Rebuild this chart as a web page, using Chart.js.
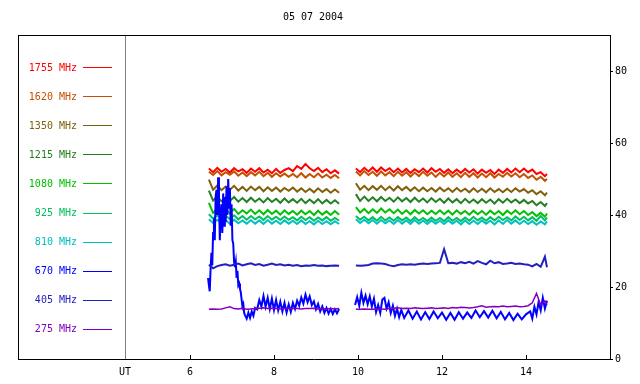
<!DOCTYPE html>
<html>
<head>
<meta charset="utf-8">
<script src="https://cdn.jsdelivr.net/npm/chart.js@4/dist/chart.umd.min.js"></script>
<style>
html,body{margin:0;padding:0;background:#fff;}
canvas{display:block;}
</style>
</head>
<body>
<canvas id="c" width="640" height="384" style="width:640px;height:384px"></canvas>
<script>
const titleText = '05 07 2004';
const xTicks = [6, 8, 10, 12, 14];
const yTicks = [0, 20, 40, 60, 80];
const names = ['1755 MHz','1620 MHz','1350 MHz','1215 MHz','1080 MHz','925 MHz','810 MHz','670 MHz','405 MHz','275 MHz'];
const colors = ['#ff0000','#c45000','#80600a','#228022','#00c000','#00c060','#00c0c0','#0000ff','#2020c0','#8000c0'];

const times = [6.45,6.55,6.65,6.75,6.85,6.95,7.05,7.15,7.25,7.35,
7.45,7.55,7.65,7.75,7.85,7.95,8.05,8.15,8.25,8.35,
8.45,8.55,8.65,8.75,8.85,8.95,9.05,9.15,9.25,9.35,
9.45,9.55,
9.75,
9.95,10.05,10.15,10.25,10.35,10.45,10.55,10.65,10.75,10.85,
10.95,11.05,11.15,11.25,11.35,11.45,11.55,11.65,11.75,11.85,
11.95,12.05,12.15,12.25,12.35,12.45,12.55,12.65,12.75,12.85,
12.95,13.05,13.15,13.25,13.35,13.45,13.55,13.65,13.75,13.85,
13.95,14.05,14.15,14.25,14.35,14.45,14.5];

const v1755 = [52.9,51.9,53.1,52.0,52.8,51.8,53.0,52.1,52.7,51.7,
52.9,52.0,53.0,51.8,52.6,51.6,52.8,51.7,52.5,53.0,
52.2,53.6,52.8,54.2,53.0,52.2,53.1,51.9,52.7,51.6,
52.4,51.5,
null,
52.9,51.9,53.1,52.1,53.2,52.0,53.2,52.2,53.0,51.9,
52.9,51.8,52.8,51.7,52.7,51.9,52.9,51.8,53.0,52.0,
52.8,51.7,52.7,51.6,52.6,51.7,52.8,51.8,52.7,51.5,
52.6,51.7,52.5,51.4,52.6,51.7,52.8,51.8,52.9,51.9,
52.9,51.9,52.6,51.4,51.9,50.8,51.4];

const v1620 = [52.0,51.1,52.2,51.0,51.9,51.2,52.1,50.9,51.8,50.8,
51.9,51.0,52.0,50.8,51.7,50.6,51.6,50.7,51.5,50.6,
51.4,50.5,51.6,50.4,51.4,50.5,51.5,50.4,51.2,50.3,
51.1,50.2,
null,
52.1,51.0,52.2,51.1,52.0,50.9,52.1,51.0,51.9,50.8,
52.0,50.9,51.9,50.7,51.8,50.8,52.0,50.9,51.8,50.6,
51.7,50.7,51.8,50.6,51.6,50.5,51.7,50.6,51.6,50.4,
51.5,50.5,51.6,50.4,51.4,50.6,51.7,50.7,51.6,50.5,
51.4,50.3,51.0,49.8,50.6,49.5,50.0];

const v1350 = [49.8,47.0,48.2,46.9,47.9,47.0,48.1,46.8,47.8,46.7,
47.9,46.9,47.8,46.6,47.7,46.7,47.6,46.5,47.5,46.7,
47.6,46.5,47.4,46.4,47.3,46.3,47.4,46.4,47.2,46.2,
47.1,46.2,
null,
48.8,47.0,48.1,46.9,48.0,47.0,48.1,46.9,47.9,46.8,
48.0,46.9,47.8,46.7,47.7,46.6,47.6,46.6,47.5,46.5,
47.6,46.6,47.4,46.4,47.5,46.5,47.3,46.3,47.4,46.4,
47.3,46.3,47.4,46.4,47.2,46.3,47.3,46.4,47.4,46.5,
47.2,46.2,46.9,45.8,46.6,45.5,46.2];

const v1215 = [46.8,44.0,45.1,43.8,44.9,43.9,45.0,43.7,44.7,43.6,
44.8,43.7,44.6,43.5,44.7,43.6,44.5,43.4,44.6,43.5,
44.4,43.4,44.5,43.3,44.3,43.3,44.4,43.2,44.2,43.2,
44.1,43.1,
null,
45.8,43.9,45.1,43.9,44.9,43.8,45.0,43.9,44.8,43.7,
44.9,43.8,44.7,43.6,44.8,43.7,44.6,43.5,44.7,43.6,
44.5,43.4,44.6,43.5,44.4,43.3,44.5,43.4,44.3,43.3,
44.4,43.4,44.3,43.2,44.4,43.4,44.5,43.5,44.3,43.3,
44.2,43.2,43.9,42.7,43.6,42.5,43.3];

const v1080 = [43.4,40.6,41.6,40.4,41.4,40.5,41.7,40.3,41.3,40.4,
41.5,40.3,41.3,40.2,41.4,40.3,41.2,40.1,41.3,40.3,
41.1,40.1,41.2,40.2,41.1,40.0,41.2,40.1,41.0,40.0,
41.1,40.1,
null,
42.2,40.7,41.7,40.5,41.6,40.6,41.8,40.7,41.6,40.5,
41.5,40.3,41.3,40.2,41.4,40.4,41.3,40.2,41.2,40.3,
41.3,40.2,41.2,40.1,41.3,40.3,41.1,40.1,41.2,40.2,
41.1,40.1,41.2,40.2,41.1,40.0,41.2,40.3,41.3,40.2,
41.1,40.0,40.8,39.7,40.6,39.5,40.4];

const v925 = [40.2,39.0,39.9,38.8,39.8,38.9,39.9,38.8,39.7,38.7,
39.7,38.8,39.6,38.6,39.7,38.7,39.5,38.6,39.6,38.7,
39.4,38.5,39.5,38.6,39.4,38.4,39.3,38.5,39.4,38.4,
39.2,38.4,
null,
39.7,38.7,39.5,38.5,39.4,38.4,39.5,38.5,39.3,38.4,
39.4,38.5,39.3,38.3,39.4,38.4,39.2,38.3,39.3,38.4,
39.2,38.3,39.4,38.4,39.2,38.3,39.3,38.4,39.5,38.5,
39.3,38.4,39.4,38.5,39.5,38.6,39.4,38.5,39.6,38.6,
39.5,38.5,39.4,38.4,39.7,38.5,39.3];

const v810 = [38.8,37.8,38.7,37.7,38.6,37.6,38.7,37.7,38.5,37.6,
38.6,37.6,38.5,37.5,38.6,37.6,38.4,37.5,38.5,37.6,
38.4,37.5,38.5,37.5,38.3,37.4,38.4,37.5,38.3,37.4,
38.3,37.5,
null,
38.8,37.8,38.7,37.7,38.6,37.6,38.6,37.7,38.5,37.5,
38.6,37.6,38.5,37.5,38.6,37.6,38.4,37.5,38.5,37.6,
38.4,37.5,38.5,37.6,38.4,37.4,38.5,37.5,38.4,37.5,
38.5,37.6,38.4,37.4,38.5,37.5,38.6,37.6,38.5,37.5,
38.4,37.5,38.3,37.3,38.2,37.4,38.2];

const v405 = [26.2,25.2,25.8,26.1,26.3,25.9,26.2,26.5,26.0,26.3,
26.6,26.1,26.4,25.9,26.2,26.5,26.1,26.3,26.0,26.2,
25.9,26.1,25.8,26.0,25.9,26.1,25.9,26.0,25.8,25.9,
26.0,25.9,
null,
26.0,25.9,26.0,26.1,26.5,26.6,26.5,26.4,26.0,25.8,
26.1,26.3,26.2,26.3,26.2,26.4,26.5,26.4,26.5,26.6,
26.7,30.5,26.6,26.7,26.5,26.9,26.6,27.0,26.5,27.2,
26.7,26.3,27.3,26.6,26.9,26.4,26.5,26.7,26.4,26.5,
26.3,26.2,25.7,26.4,25.6,28.4,25.5];

const v275 = [13.8,13.9,13.8,13.9,14.2,14.5,14.0,13.9,14.1,13.8,
13.9,14.0,14.1,14.2,14.0,14.1,14.0,13.9,14.0,14.1,
14.0,14.0,13.9,14.0,14.0,14.1,13.9,14.0,13.9,14.0,
13.9,14.0,
null,
13.8,13.8,13.9,13.8,13.8,13.9,13.9,13.8,14.0,14.1,
14.2,14.0,14.1,14.0,14.2,14.1,14.0,14.1,14.2,14.0,
14.1,14.2,14.0,14.3,14.2,14.4,14.3,14.2,14.3,14.5,
14.8,14.4,14.5,14.6,14.5,14.7,14.5,14.6,14.7,14.5,
14.6,14.8,15.6,18.2,15.0,16.2,15.0];

// 670 MHz has its own, finer sampled time axis
const t670 = [6.43,6.45,6.47,6.49,6.51,6.53,6.55,6.57,6.59,6.61,
6.63,6.65,6.67,6.69,6.71,6.73,6.75,6.77,6.79,6.81,
6.83,6.85,6.87,6.89,6.91,6.93,6.95,6.97,6.99,7.01,
7.03,7.05,7.07,7.09,7.11,7.13,7.15,7.17,7.19,7.21,
7.23,7.25,7.27,7.29,7.31,7.35,7.39,7.43,7.47,7.51,
7.55,7.60,7.65,7.70,7.75,7.80,7.85,7.90,7.95,8.00,
8.05,8.10,8.15,8.20,8.25,8.30,8.35,8.40,8.45,8.50,
8.55,8.60,8.65,8.70,8.75,8.80,8.85,8.90,8.95,9.00,
9.05,9.10,9.15,9.20,9.25,9.30,9.35,9.40,9.45,9.50,
9.55,
9.75,
9.93,9.98,10.03,10.08,10.13,10.18,10.23,10.28,10.33,10.38,
10.43,10.48,10.53,10.58,10.63,10.68,10.73,10.78,10.83,10.88,
10.93,10.98,11.03,11.1,11.2,11.3,11.4,11.5,11.6,11.7,
11.8,11.9,12.0,12.1,12.2,12.3,12.4,12.5,12.6,12.7,
12.8,12.9,13.0,13.1,13.2,13.3,13.4,13.5,13.6,13.7,
13.8,13.9,14.0,14.1,14.15,14.2,14.25,14.3,14.35,14.4,
14.45,14.5];
const v670 = [22.5,20.5,18.8,25.0,29.5,26.0,35.0,39.0,33.0,45.0,
47.0,40.0,50.5,45.0,33.0,40.0,43.0,35.0,46.0,37.0,
45.0,38.0,48.0,40.0,50.0,42.0,47.5,37.0,43.0,33.0,
32.0,27.0,25.5,27.0,22.5,24.5,20.5,21.0,19.5,18.5,
16.4,14.5,15.2,12.8,12.2,11.2,12.9,11.4,13.2,12.0,
14.2,13.8,16.4,14.6,17.5,14.5,17.0,13.9,16.8,13.6,
16.4,13.5,15.9,13.2,15.6,12.9,15.2,13.1,15.6,13.9,
16.2,14.8,17.1,15.4,17.9,15.8,17.4,15.0,16.0,13.8,
15.3,13.2,14.6,12.8,14.2,12.6,13.9,12.5,13.8,12.7,
13.9,
null,
15.0,17.2,14.8,18.4,15.6,17.6,15.2,17.4,14.6,16.8,
13.0,15.0,12.8,16.5,17.0,14.0,15.8,12.8,14.8,12.0,
14.0,11.6,13.6,11.4,13.5,11.2,13.2,11.0,13.0,11.1,
13.2,11.3,12.9,10.9,12.8,10.9,13.0,11.2,12.9,11.4,
13.5,11.6,13.3,11.5,13.4,11.3,13.1,11.0,12.8,10.8,
12.6,11.0,12.4,13.2,11.2,14.5,12.4,15.8,13.5,17.0,
14.0,16.2];

const shared = [v1755, v1620, v1350, v1215, v1080, v925, v810, null, v405, v275];
const widths = [2,2,2,2,2,2,2,2,2,1.5];

const pts = (xs, ys) => xs.map((t, i) => ({ x: t, y: ys[i] }));

const datasets = [];
// lower frequencies drawn on top: push in reverse so index 0 (275 MHz) is drawn last
for (let i = names.length - 1; i >= 0; i--) {
  const data = (i === 7) ? pts(t670, v670) : pts(times, shared[i]);
  datasets.push({
    label: names[i],
    data,
    borderColor: colors[i],
    backgroundColor: colors[i],
    borderWidth: widths[i],
    borderJoinStyle: 'miter',
    pointRadius: 0,
    tension: 0,
    spanGaps: false,
    fill: false
  });
}

const FONT = '10px "DejaVu Sans Mono", monospace';

const framePlugin = {
  id: 'frame',
  beforeDatasetsDraw(chart) {
    const { ctx, chartArea: a } = chart;
    ctx.save();
    ctx.fillStyle = '#808080';
    ctx.fillRect(125, a.top, 1, a.bottom - a.top);
    ctx.restore();
  },
  afterDraw(chart) {
    const { ctx, chartArea: a, scales } = chart;
    ctx.save();
    ctx.fillStyle = '#000';
    // frame top and left
    ctx.fillRect(a.left, a.top, a.right - a.left, 1);
    ctx.fillRect(a.left, a.top, 1, a.bottom - a.top);
    // inward x ticks
    xTicks.forEach(v => {
      const px = Math.round(scales.x.getPixelForValue(v));
      ctx.fillRect(px, a.bottom - 4, 1, 4);
    });
    // title
    ctx.font = FONT;
    ctx.textAlign = 'center';
    ctx.textBaseline = 'middle';
    ctx.fillText(titleText, 313, 17);
    // UT label
    ctx.fillText('UT', 125, 372);
    // legend
    ctx.textAlign = 'right';
    names.forEach((n, i) => {
      const y = 68 + i * 29.1;
      ctx.fillStyle = colors[i];
      ctx.fillText(n, 77, y);
      ctx.fillRect(83, Math.round(y) - 1, 29, 1);
    });
    ctx.restore();
  }
};

new Chart(document.getElementById('c').getContext('2d'), {
  type: 'line',
  data: { datasets },
  options: {
    responsive: false,
    animation: false,
    events: [],
    layout: { padding: { top: 35, left: 18, right: 0, bottom: 0 } },
    plugins: {
      legend: { display: false },
      tooltip: { enabled: false },
      title: { display: false }
    },
    scales: {
      x: {
        type: 'linear',
        position: 'bottom',
        min: 1.905,
        max: 16,
        afterBuildTicks: s => { s.ticks = xTicks.map(v => ({ value: v })); },
        afterFit: s => { s.height = 25; },
        grid: { display: true, drawOnChartArea: false, drawTicks: false },
        border: { display: true, color: '#000', width: 1 },
        ticks: { padding: 7, color: '#000', font: { family: '"DejaVu Sans Mono", monospace', size: 10 }, maxRotation: 0, autoSkip: false }
      },
      y: {
        type: 'linear',
        position: 'right',
        min: 0,
        max: 90,
        afterBuildTicks: s => { s.ticks = yTicks.map(v => ({ value: v })); },
        afterFit: s => { s.width = 30; },
        grid: { display: true, drawOnChartArea: false, drawTicks: true, tickLength: 3, color: '#000' },
        border: { display: true, color: '#000', width: 1 },
        ticks: { padding: 2, color: '#000', font: { family: '"DejaVu Sans Mono", monospace', size: 10 } }
      }
    }
  },
  plugins: [framePlugin]
});
</script>
</body>
</html>
